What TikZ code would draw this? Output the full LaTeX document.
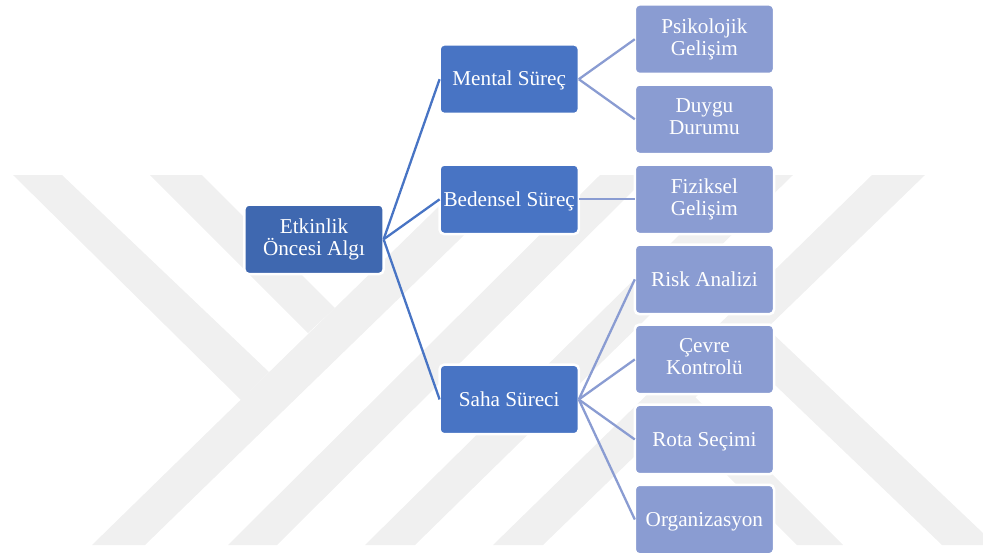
\documentclass[tikz,border=0pt]{standalone}
\usepackage{fontspec}
\setmainfont{Liberation Serif}
\definecolor{myroot}{HTML}{3F68B0}
\definecolor{mymid}{HTML}{4874C4}
\definecolor{myleaf}{HTML}{8A9CD2}
\definecolor{mygrey}{HTML}{F0F0F0}
\usetikzlibrary{positioning}

\begin{document}
\begin{tikzpicture}[x=1pt,y=1pt,
    every node/.style={draw=white,line width=2.5pt,rounded corners=4.5pt,text=white,
        minimum width=139.2pt,minimum height=69.5pt,inner sep=0pt,outer sep=0pt,align=center,
        font=\fontsize{21.2}{22}\selectfont,
        execute at begin node={\rule{0pt}{18.5pt}},
        execute at end node={\rule[-5pt]{0pt}{5pt}}},
    twolines/.style={execute at begin node={\rule{0pt}{28pt}}},
    rootnode/.style={fill=myroot},
    midnode/.style={fill=mymid},
    leafnode/.style={fill=myleaf},
    rootedge/.style={draw=mymid,line width=2.3pt},
    leafedge/.style={draw=myleaf,line width=2.3pt},
    node distance=80.05pt
    ]
    \useasboundingbox (0,0) rectangle (983,-555);

    % the background mark
    \foreach \a/\b/\c/\d in {92/145/526/471,228/277/649/600,365/415/793/740,493/543/925/872}
        \fill[mygrey] (\a,-545) -- (\b,-545) -- (\c,-175) -- (\d,-175) -- cycle;
    \fill[mygrey] (13,-175) -- (62,-175) -- (269,-372) -- (241,-400) -- cycle;
    \fill[mygrey] (150,-175) -- (202,-175) -- (335,-308) -- (308,-333) -- cycle;
    \fill[mygrey] (797,-545) -- (843,-545) -- (680,-382) -- (650,-398) -- cycle;
    \fill[mygrey] (942,-545) -- (983,-545) -- (983,-533) -- (750,-312) -- (728,-340) -- cycle;

    \node (psikolojik) [leafnode,twolines] at (704.4,-39.2) {Psikolojik\\Gelişim};
    \node (duygu) [leafnode,twolines,below of=psikolojik] {Duygu\\Durumu};
    \node (fiziksel) [leafnode,twolines,below of=duygu] {Fiziksel\\Gelişim};
    \node (risk) [leafnode,below of=fiziksel] {Risk Analizi};
    \node (cevre) [leafnode,twolines,below of=risk] {Çevre\\Kontrolü};
    \node (rota) [leafnode,below of=cevre] {Rota Seçimi};
    \node (organizasyon) [leafnode,below of=rota] {Organizasyon};
    \node (mental) [midnode,left of=psikolojik,node distance=195.2pt,yshift=-40pt] {Mental Süreç};
    \node (bedensel) [midnode,left of=fiziksel,node distance=195.2pt] {Bedensel Süreç};
    \node (saha) [midnode,left of=rota,node distance=195.2pt,yshift=40pt] {Saha Süreci};
    \node (etkinlik) [rootnode,twolines,left of=bedensel,node distance=195.2pt,yshift=-40pt] {Etkinlik\\Öncesi Algı};

    % the edges
    \draw[rootedge] (etkinlik.east) -- (mental.west);
    \draw[rootedge] (etkinlik.east) -- (bedensel.west);
    \draw[rootedge] (etkinlik.east) -- (saha.west);
    \draw[leafedge] (mental.east) -- (psikolojik.west);
    \draw[leafedge] (mental.east) -- (duygu.west);
    \draw[leafedge] (bedensel.east) -- (fiziksel.west);
    \draw[leafedge] (saha.east) -- (risk.west);
    \draw[leafedge] (saha.east) -- (cevre.west);
    \draw[leafedge] (saha.east) -- (rota.west);
    \draw[leafedge] (saha.east) -- (organizasyon.west);
    \end{tikzpicture}
\end{document}
